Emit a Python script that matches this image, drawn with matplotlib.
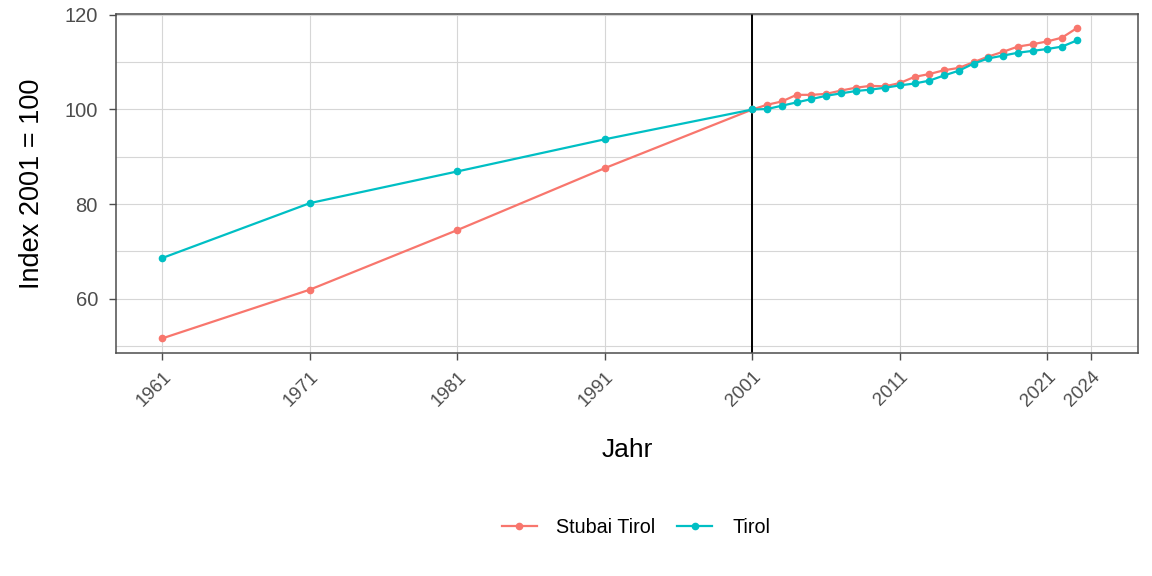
import matplotlib
matplotlib.use('Agg')
import matplotlib.pyplot as plt
from matplotlib.lines import Line2D

plt.rcParams['font.family'] = ['Liberation Sans', 'DejaVu Sans']

# Data: index 2001 = 100
years = [1961, 1971, 1981, 1991, 2001, 2002, 2003, 2004, 2005, 2006, 2007, 2008,
         2009, 2010, 2011, 2012, 2013, 2014, 2015, 2016, 2017, 2018, 2019, 2020,
         2021, 2022, 2023]
stubai = [51.6, 61.9, 74.5, 87.6, 100.0, 101.0, 101.7, 103.1, 103.1, 103.3, 104.0,
          104.6, 105.0, 104.9, 105.6, 106.9, 107.5, 108.3, 108.8, 110.0, 111.2,
          112.2, 113.3, 113.8, 114.4, 115.2, 117.2]
tirol = [68.6, 80.2, 86.9, 93.7, 100.0, 100.1, 100.8, 101.5, 102.2, 102.9, 103.4,
         103.9, 104.2, 104.6, 105.1, 105.5, 106.1, 107.2, 108.2, 109.7, 110.8,
         111.4, 112.0, 112.4, 112.8, 113.3, 114.6]
series_names = ['Stubai Tirol', 'Tirol']
series_colors = ['#F8766D', '#00BFC4']

x_breaks = [1961, 1971, 1981, 1991, 2001, 2011, 2021, 2024]
y_breaks = [60, 80, 100, 120]
y_minor = [50, 70, 90, 110]

fig = plt.figure(figsize=(11.52, 5.76), dpi=100)
ax = fig.add_axes([0.1007, 0.3872, 0.8871, 0.5885])

ax.set_xlim(1957.85, 2027.15)
ax.set_ylim(48.5, 120.2)

# grid
for yv in y_breaks + y_minor:
    ax.axhline(yv, color='#D6D6D6', linewidth=0.8, zorder=0)
for xv in x_breaks:
    ax.axvline(xv, color='#D6D6D6', linewidth=0.8, zorder=0)

ax.axvline(2001, color='black', linewidth=1.4, zorder=2)

for vals, col in zip([stubai, tirol], series_colors):
    ax.plot(years, vals, color=col, linewidth=1.6, marker='o', markersize=4.5, zorder=3)

ax.set_xticks(x_breaks)
ax.set_xticklabels([str(x) for x in x_breaks], rotation=45, ha='right',
                   rotation_mode='anchor')
ax.set_yticks(y_breaks)
ax.tick_params(axis='both', colors='#4D4D4D', length=5, width=1)
ax.tick_params(axis='x', labelsize=13.5, pad=6)
ax.tick_params(axis='y', labelsize=14.5, pad=8)
for lab in ax.get_xticklabels() + ax.get_yticklabels():
    lab.set_color('#4D4D4D')

for sp in ax.spines.values():
    sp.set_color('#4D4D4D')
    sp.set_linewidth(1.1)

ax.set_xlabel('Jahr', fontsize=19)
ax.set_ylabel('Index 2001 = 100', fontsize=19.5)
ax.xaxis.set_label_coords(0.5, -0.25)
ax.yaxis.set_label_coords(-0.069, 0.5)

handles = [Line2D([0], [0], color=c, linewidth=1.6, marker='o', markersize=4.5)
           for c in series_colors]
fig.legend(handles, series_names, loc='center', bbox_to_anchor=(0.552, 0.085),
           ncol=2, frameon=False, fontsize=14.2, handlelength=1.77,
           columnspacing=1.1, handletextpad=1.0)

fig.savefig('out.png', dpi=100, facecolor='white')
